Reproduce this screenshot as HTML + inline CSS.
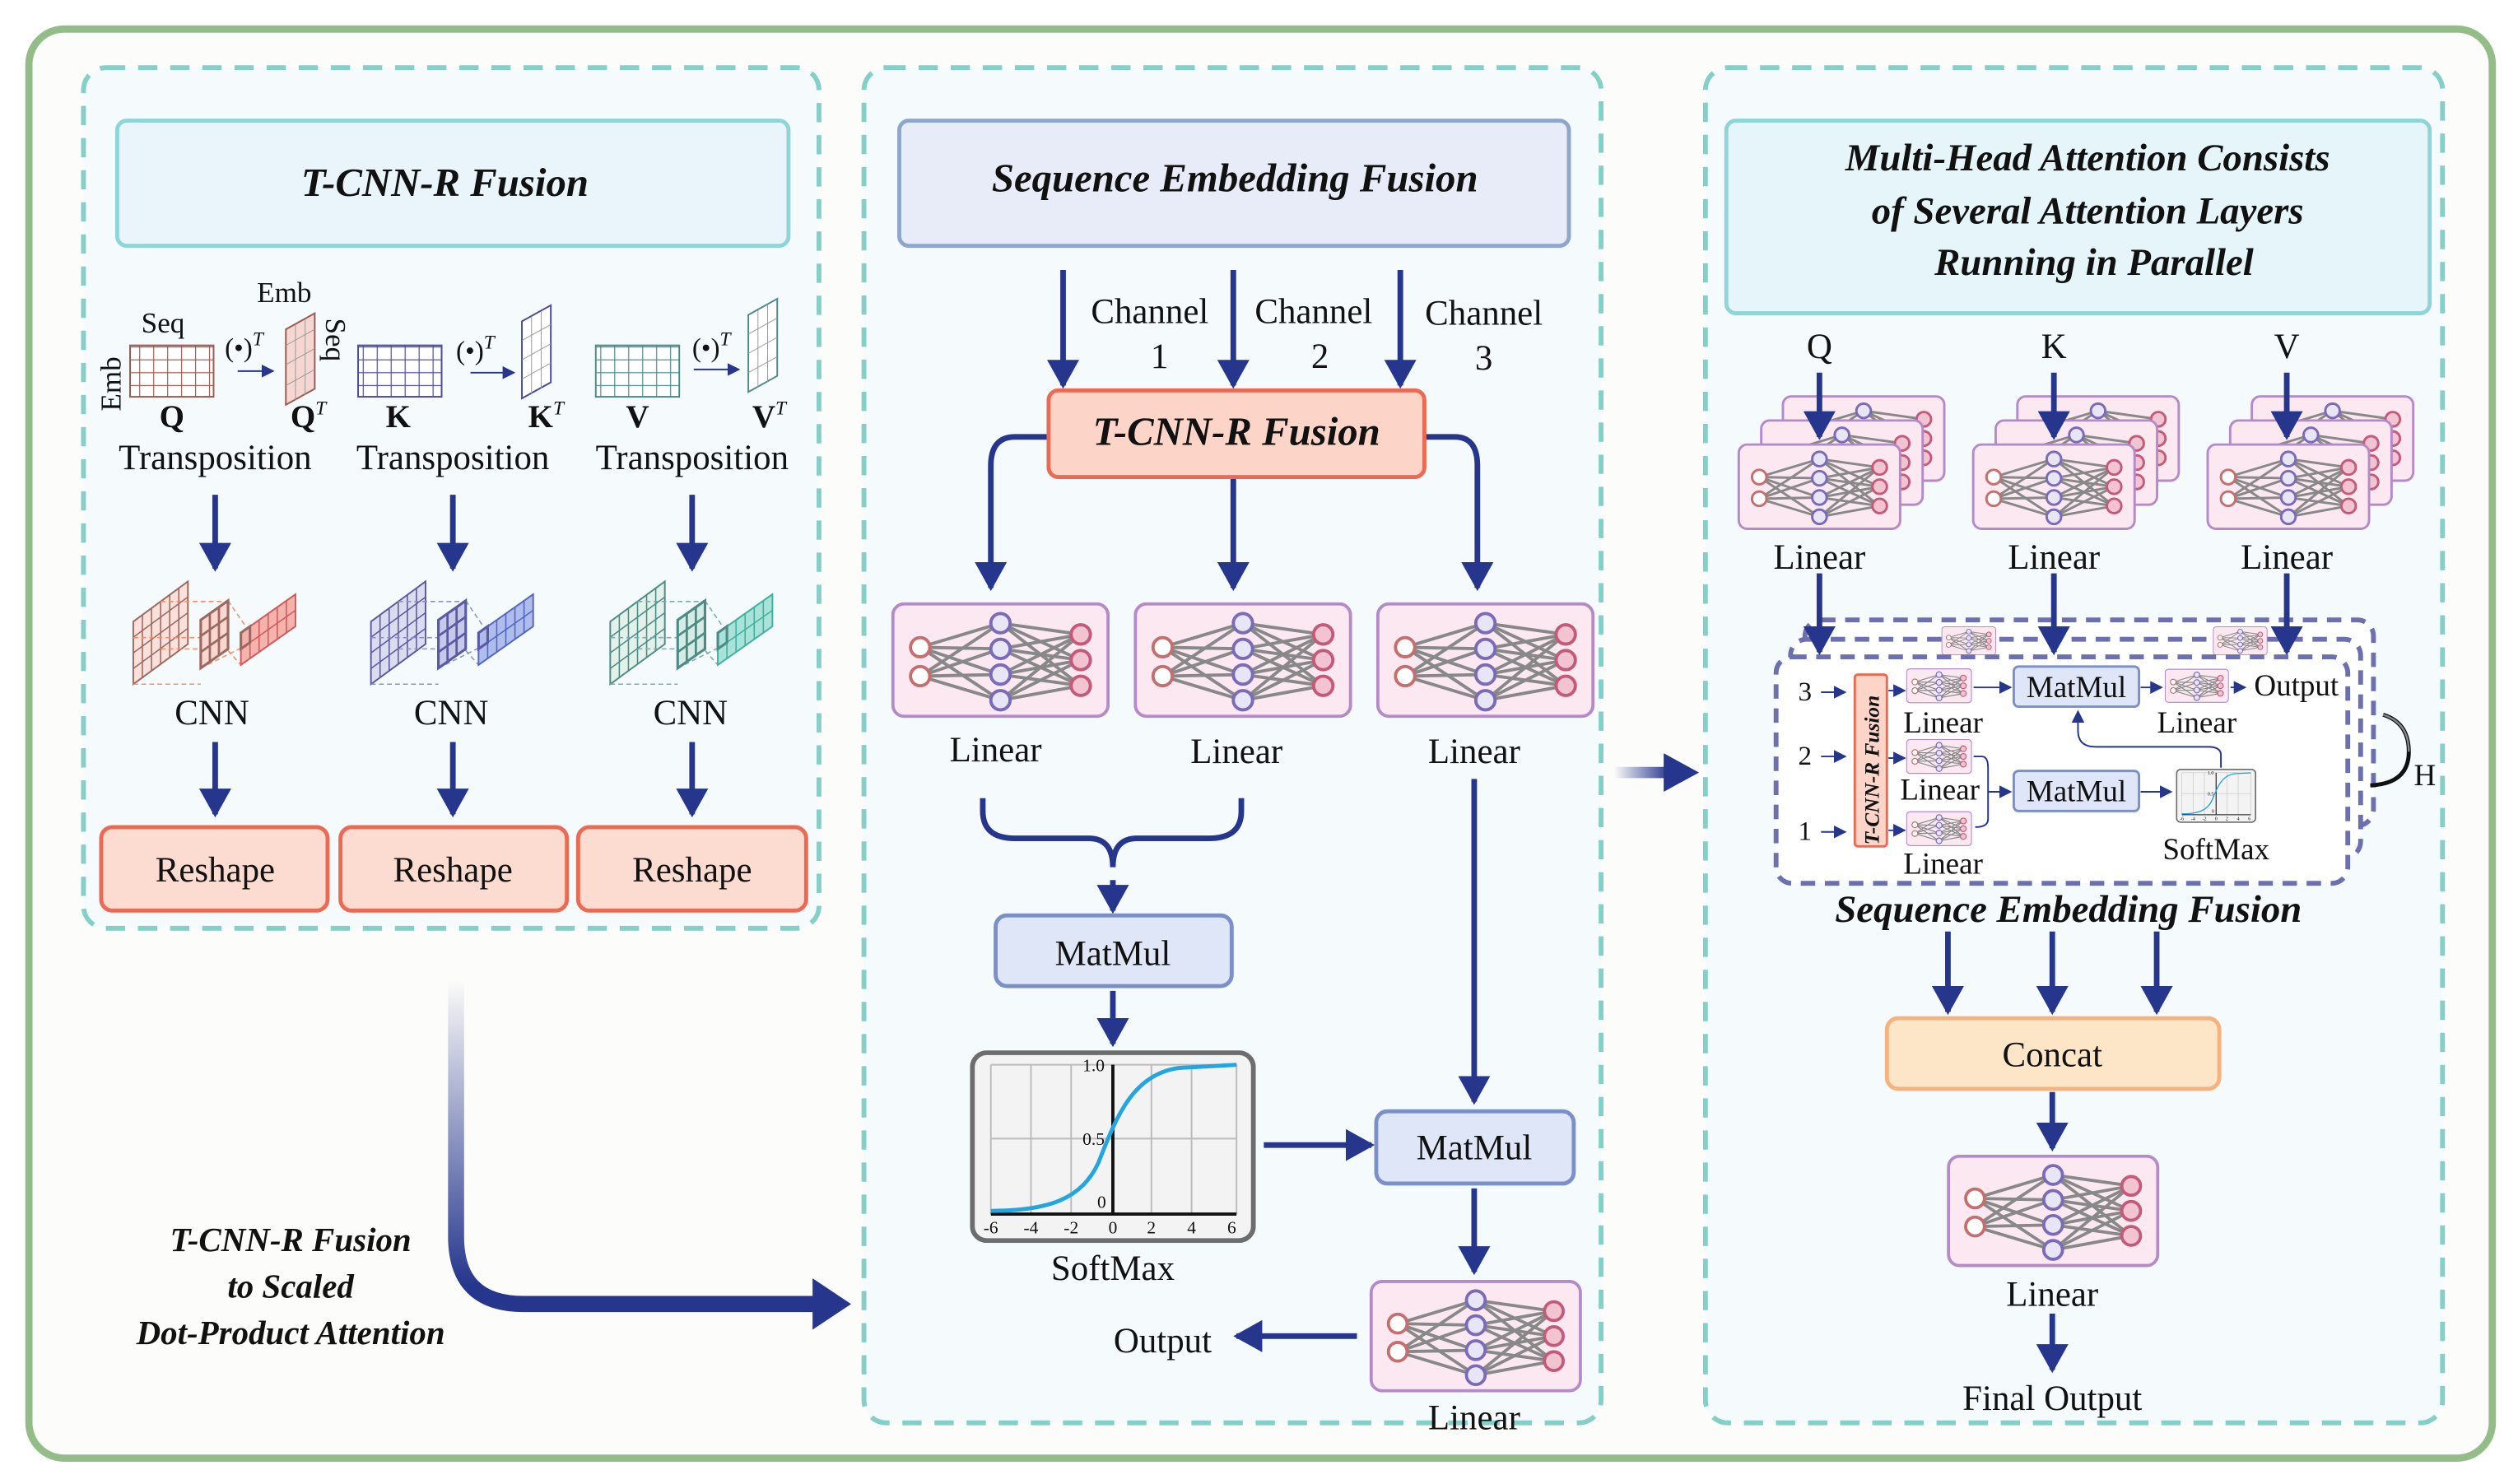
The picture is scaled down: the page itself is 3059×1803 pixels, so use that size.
<!DOCTYPE html>
<html><head><meta charset="utf-8"><style>
html,body{margin:0;padding:0;background:#fff}
svg{display:block}
svg text{font-family:"Liberation Serif","DejaVu Serif","Times New Roman",serif;fill:#111}
.b{font-weight:bold;font-style:italic}
</style></head><body>
<svg width="3059" height="1803" viewBox="0 0 1568 924" xmlns="http://www.w3.org/2000/svg" font-family="Liberation Serif, DejaVu Serif, serif">
<defs>
<marker id="ah" markerUnits="userSpaceOnUse" markerWidth="18" markerHeight="20" refX="16" refY="10" orient="auto"><path d="M0,0 L18,10 L0,20 Z" fill="#26368c"/></marker>
<marker id="as" markerUnits="userSpaceOnUse" markerWidth="8" markerHeight="8" refX="7" refY="4" orient="auto"><path d="M0,0 L8,4 L0,8 Z" fill="#26368c"/></marker>
<linearGradient id="g1" x1="0" y1="610" x2="0" y2="800" gradientUnits="userSpaceOnUse"><stop offset="0" stop-color="#26368c" stop-opacity="0"/><stop offset="1" stop-color="#26368c"/></linearGradient>
<linearGradient id="g2" x1="1005" y1="0" x2="1040" y2="0" gradientUnits="userSpaceOnUse"><stop offset="0" stop-color="#26368c" stop-opacity="0"/><stop offset="1" stop-color="#26368c"/></linearGradient>
<pattern id="pr" width="8.7" height="8" patternUnits="userSpaceOnUse"><rect width="8.7" height="8" fill="#fff" stroke="#9a5a50" stroke-width="0.6"/></pattern>
<pattern id="pb" width="8.7" height="8" patternUnits="userSpaceOnUse"><rect width="8.7" height="8" fill="#fff" stroke="#4a4a9a" stroke-width="0.6"/></pattern>
<pattern id="pg" width="8.7" height="8" patternUnits="userSpaceOnUse"><rect width="8.7" height="8" fill="#fff" stroke="#4a8a8a" stroke-width="0.6"/></pattern>
<symbol id="nn" viewBox="0 0 136 72">
<rect x="1" y="1" width="134" height="70" rx="7" fill="#fbe8f0" stroke="#b48ac9" stroke-width="2"/>
<g stroke="#888" stroke-width="2" fill="none">
<path d="M18,28 L68,13 M18,28 L68,29 M18,28 L68,45 M18,28 L68,61 M18,46 L68,13 M18,46 L68,29 M18,46 L68,45 M18,46 L68,61"/>
<path d="M68,13 L118,20 M68,13 L118,36 M68,13 L118,52 M68,29 L118,20 M68,29 L118,36 M68,29 L118,52 M68,45 L118,20 M68,45 L118,36 M68,45 L118,52 M68,61 L118,20 M68,61 L118,36 M68,61 L118,52"/>
</g>
<g stroke-width="2"><circle cx="18" cy="28" r="6" fill="#fff" stroke="#c46e6e"/><circle cx="18" cy="46" r="6" fill="#fff" stroke="#c46e6e"/>
<circle cx="68" cy="13" r="6" fill="#e8e6f6" stroke="#7a6ab8"/><circle cx="68" cy="29" r="6" fill="#e8e6f6" stroke="#7a6ab8"/><circle cx="68" cy="45" r="6" fill="#e8e6f6" stroke="#7a6ab8"/><circle cx="68" cy="61" r="6" fill="#e8e6f6" stroke="#7a6ab8"/>
<circle cx="118" cy="20" r="6" fill="#f2c4d2" stroke="#c45a7a"/><circle cx="118" cy="36" r="6" fill="#f2c4d2" stroke="#c45a7a"/><circle cx="118" cy="52" r="6" fill="#f2c4d2" stroke="#c45a7a"/></g>
</symbol>
<symbol id="sm" viewBox="0 0 178 120">
<rect x="1.5" y="1.5" width="175" height="117" rx="9" fill="#f3f3f3" stroke="#6d6d6d" stroke-width="3"/>
<g stroke="#bbb" stroke-width="1" fill="none"><path d="M13,9 H166 V102 M13,9 V102 M38,9 V102 M63,9 V102 M113,9 V102 M138,9 V102 M13,55 H166"/></g>
<path d="M13,102 H166 M89,9 V102" stroke="#111" stroke-width="2" fill="none"/>
<path d="M13,100 C50,100 70,92 80,70 C90,45 100,15 130,11 L166,9" stroke="#23a5e0" stroke-width="2.5" fill="none"/>
<g font-size="11" text-anchor="middle"><text x="13" y="114">-6</text><text x="38" y="114">-4</text><text x="63" y="114">-2</text><text x="89" y="114">0</text><text x="113" y="114">2</text><text x="138" y="114">4</text><text x="163" y="114">6</text>
<text x="77" y="13">1.0</text><text x="77" y="59">0.5</text><text x="82" y="98">0</text></g>
</symbol>
<symbol id="cnn" viewBox="0 0 104 70" overflow="visible">
<path d="M0,27 L34,2 V41 L0,66 Z" style="fill:var(--f1);stroke:var(--s1)" stroke-width="1"/>
<path d="M5.67,22.8 V61.8 M11.33,18.7 V57.7 M17,14.5 V53.5 M22.67,10.3 V49.3 M28.33,6.2 V45.2 M0,36.75 L34,11.75 M0,46.5 L34,21.5 M0,56.25 L34,31.25" style="stroke:var(--s1)" stroke-width="0.8" fill="none"/>
<path d="M17,14.5 H59 M0,37 H42 M17,44 H59 M0,66 H42 M59,14 L70,30 M59,45 L67,54 M42,56 L70,42" style="stroke:var(--d)" stroke-width="0.8" stroke-dasharray="3,2" fill="none"/>
<path d="M42,26 L59,14 V44 L42,56 Z" style="fill:var(--f2);stroke:var(--s1)" stroke-width="1.6"/>
<path d="M47.67,22 V52 M53.33,18 V48 M42,36 L59,24 M42,46 L59,34" style="stroke:var(--s1)" stroke-width="1.4" fill="none"/>
<path d="M67,34 L101,10 V30 L67,54 Z" style="fill:var(--f3);stroke:var(--s3)" stroke-width="1"/>
<path d="M72.67,30 V50 M78.33,26 V46 M84,22 V42 M89.67,18 V38 M95.33,14 V34 M67,44 L101,20" style="stroke:var(--s3)" stroke-width="0.8" fill="none"/>
<path d="M67,34 L72.67,30 V40 L67,44 Z" style="stroke:var(--s1)" stroke-width="1.6" fill="none"/>
</symbol>
</defs>
<rect x="0" y="0" width="1568" height="924" fill="#fff"/>
<rect x="18" y="18" width="1534" height="890" rx="22" fill="#fcfcfa" stroke="#93bd86" stroke-width="4.5"/>
<!-- panels -->
<rect x="52" y="42" width="458" height="536" rx="14" fill="#f5fafc" stroke="#84cfc8" stroke-width="3" stroke-dasharray="12,8"/>
<rect x="538" y="42" width="459" height="844" rx="14" fill="#f5fafc" stroke="#84cfc8" stroke-width="3" stroke-dasharray="12,8"/>
<rect x="1062" y="42" width="459" height="844" rx="14" fill="#f5fafc" stroke="#84cfc8" stroke-width="3" stroke-dasharray="12,8"/>
<!-- titles -->
<rect x="73" y="75" width="418" height="78" rx="6" fill="#e9f5fb" stroke="#8dd5d8" stroke-width="2.5"/>
<text x="277" y="122" font-size="25" class="b" text-anchor="middle">T-CNN-R Fusion</text>
<rect x="560" y="75" width="417" height="78" rx="6" fill="#e8ecf8" stroke="#8fa6cc" stroke-width="2.5"/>
<text x="769" y="119" font-size="25" class="b" text-anchor="middle">Sequence Embedding Fusion</text>
<rect x="1075" y="75" width="438" height="120" rx="6" fill="#e5f5fa" stroke="#8dd5d8" stroke-width="2.5"/>
<g font-size="24" class="b" text-anchor="middle"><text x="1300" y="106">Multi-Head Attention Consists</text><text x="1300" y="139">of  Several Attention Layers</text><text x="1304" y="171">Running in Parallel</text></g>

<!-- panel1 matrices -->
<g font-size="18">
<text x="88" y="207">Seq</text><text x="160" y="188">Emb</text>
<text transform="translate(75,256) rotate(-90)">Emb</text>
<text transform="translate(203,198) rotate(90)">Seq</text>
</g>
<rect x="81" y="215" width="52" height="32" fill="url(#pr)" stroke="#9a5a50"/>
<rect x="223" y="215" width="52" height="32" fill="url(#pb)" stroke="#4a4a9a"/>
<rect x="371" y="215" width="52" height="32" fill="url(#pg)" stroke="#4a8a8a"/>
<path d="M178,252 L178,205 L196,195 L196,242 Z" fill="#f6d6d0" stroke="#9a5a50"/>
<path d="M325,248 L325,200 L343,190 L343,238 Z" fill="#fff" stroke="#4a4a9a"/>
<path d="M466,244 L466,196 L484,186 L484,234 Z" fill="#fff" stroke="#4a8a8a"/>
<g stroke="#999" stroke-width="0.5"><path d="M178,215 L196,205 M178,227 L196,217 M178,240 L196,230 M184,249 V202 M190,246 V199"/><path d="M325,212 L343,202 M325,224 L343,214 M325,236 L343,226 M331,245 V197 M337,242 V194"/><path d="M466,208 L484,198 M466,220 L484,210 M466,232 L484,222 M472,241 V193 M478,238 V190"/></g>
<g stroke="#26368c" stroke-width="1"><path d="M148,231 H170" marker-end="url(#as)"/><path d="M293,232 H320" marker-end="url(#as)"/><path d="M432,230 H460" marker-end="url(#as)"/></g>
<g font-size="17"><text x="140" y="222">(•)<tspan font-size="12" font-style="italic" dy="-7">T</tspan></text><text x="284" y="224">(•)<tspan font-size="12" font-style="italic" dy="-7">T</tspan></text><text x="431" y="222">(•)<tspan font-size="12" font-style="italic" dy="-7">T</tspan></text></g>
<g font-size="20" font-weight="bold" text-anchor="middle"><text x="107" y="266">Q</text><text x="248" y="266">K</text><text x="397" y="266">V</text>
<text x="192" y="266">Q<tspan font-size="12" font-style="italic" font-weight="normal" dy="-8">T</tspan></text><text x="340" y="266">K<tspan font-size="12" font-style="italic" font-weight="normal" dy="-8">T</tspan></text><text x="479" y="266">V<tspan font-size="12" font-style="italic" font-weight="normal" dy="-8">T</tspan></text></g>
<g font-size="22" text-anchor="middle"><text x="134" y="292">Transposition</text><text x="282" y="292">Transposition</text><text x="431" y="292">Transposition</text></g>
<g stroke="#26368c" stroke-width="3.5" fill="none" marker-end="url(#ah)"><path d="M134,308 V354"/><path d="M282,308 V354"/><path d="M431,308 V354"/><path d="M134,462 V507"/><path d="M282,462 V507"/><path d="M431,462 V507"/></g>
<!-- CNN icons -->
<use href="#cnn" x="83" y="360" width="104" height="70" style="--f1:#fbe0dc;--s1:#9a6a60;--f2:#fcd6d0;--f3:#f5b3ae;--s3:#d05a5a;--d:#f09070"/>
<use href="#cnn" x="231" y="360" width="104" height="70" style="--f1:#dcdcf0;--s1:#5a5aa0;--f2:#c8c8ea;--f3:#b0bcec;--s3:#5068c0;--d:#9090c0"/>
<use href="#cnn" x="380" y="360" width="104" height="70" style="--f1:#e2f2ea;--s1:#4e8a86;--f2:#d4ece4;--f3:#a8e2d8;--s3:#40b0a0;--d:#80aaaa"/>
<g font-size="22" text-anchor="middle"><text x="132" y="451">CNN</text><text x="281" y="451">CNN</text><text x="430" y="451">CNN</text></g>
<g fill="#fcdbd0" stroke="#ec6a52" stroke-width="2.5"><rect x="63" y="515" width="141" height="52" rx="7"/><rect x="212" y="515" width="141" height="52" rx="7"/><rect x="360" y="515" width="142" height="52" rx="7"/></g>
<g font-size="22" text-anchor="middle"><text x="134" y="549">Reshape</text><text x="282" y="549">Reshape</text><text x="431" y="549">Reshape</text></g>

<!-- big arrow -->
<path d="M284,610 V770 Q284,812 326,812 H510" stroke="url(#g1)" stroke-width="10" fill="none"/>
<path d="M506,796 L530,812 L506,828 Z" fill="#26368c"/>
<g font-size="21" class="b" text-anchor="middle"><text x="181" y="779">T-CNN-R Fusion</text><text x="181" y="808">to Scaled</text><text x="181" y="837">Dot-Product Attention</text></g>

<!-- panel2 -->
<g stroke="#26368c" stroke-width="3.5" fill="none" marker-end="url(#ah)">
<path d="M662,168 V240"/><path d="M768,168 V240"/><path d="M872,168 V240"/>
<path d="M653,272 H632 Q617,272 617,290 V366"/><path d="M768,298 V366"/><path d="M887,272 H906 Q920,272 920,290 V366"/>
<path d="M693,548 V567"/><path d="M693,617 V650"/><path d="M918,485 V686"/><path d="M787,713 H854"/><path d="M918,740 V792"/><path d="M845,832 H770"/>
</g>
<path d="M612,497 V505 Q612,522 632,522 H678 Q693,522 693,540 M773,497 V505 Q773,522 753,522 H708 Q693,522 693,540" stroke="#26368c" stroke-width="3.5" fill="none"/>
<g font-size="22" text-anchor="middle"><text x="716" y="201">Channel</text><text x="722" y="229">1</text><text x="818" y="201">Channel</text><text x="822" y="229">2</text><text x="924" y="202">Channel</text><text x="924" y="230">3</text></g>
<rect x="653" y="243" width="234" height="54" rx="6" fill="#fcd5c8" stroke="#ec6a52" stroke-width="2.5"/>
<text x="770" y="277" font-size="25" class="b" text-anchor="middle">T-CNN-R Fusion</text>
<use href="#nn" x="555" y="375" width="136" height="72"/>
<use href="#nn" x="706" y="375" width="136" height="72"/>
<use href="#nn" x="857" y="375" width="136" height="72"/>
<g font-size="22" text-anchor="middle"><text x="620" y="474">Linear</text><text x="770" y="475">Linear</text><text x="918" y="475">Linear</text></g>
<rect x="620" y="570" width="147" height="44" rx="7" fill="#dfe6f7" stroke="#7b8fc8" stroke-width="2.5"/>
<text x="693" y="601" font-size="22" text-anchor="middle">MatMul</text>
<use href="#sm" x="604" y="654" width="178" height="120"/>
<text x="693" y="797" font-size="22" text-anchor="middle">SoftMax</text>
<rect x="857" y="692" width="123" height="45" rx="7" fill="#dfe6f7" stroke="#7b8fc8" stroke-width="2.5"/>
<text x="918" y="722" font-size="22" text-anchor="middle">MatMul</text>
<use href="#nn" x="851" y="797" width="136" height="70"/>
<text x="918" y="890" font-size="22" text-anchor="middle">Linear</text>
<text x="724" y="842" font-size="22" text-anchor="middle">Output</text>

<!-- mid arrow -->
<path d="M1005,481 H1040" stroke="url(#g2)" stroke-width="7"/>
<path d="M1036,469 L1058,481 L1036,493 Z" fill="#26368c"/>

<!-- panel3 -->
<g font-size="22" text-anchor="middle"><text x="1133" y="223">Q</text><text x="1279" y="223">K</text><text x="1424" y="223">V</text></g>
<g>
<use href="#nn" x="1105" y="246" width="111" height="54"/><use href="#nn" x="1092" y="261" width="110" height="54"/><use href="#nn" x="1078" y="276" width="110" height="54"/>
<use href="#nn" x="1251" y="246" width="111" height="54"/><use href="#nn" x="1238" y="261" width="110" height="54"/><use href="#nn" x="1224" y="276" width="110" height="54"/>
<use href="#nn" x="1397" y="246" width="111" height="54"/><use href="#nn" x="1384" y="261" width="110" height="54"/><use href="#nn" x="1370" y="276" width="110" height="54"/>
</g>
<g stroke="#26368c" stroke-width="3.5" fill="none" marker-end="url(#ah)"><path d="M1133,232 V272"/><path d="M1279,232 V272"/><path d="M1424,232 V272"/></g>
<g font-size="22" text-anchor="middle"><text x="1133" y="354">Linear</text><text x="1279" y="354">Linear</text><text x="1424" y="354">Linear</text></g>
<rect x="1124" y="386" width="354" height="128" rx="10" fill="#fff" stroke="#6c6fb0" stroke-width="3" stroke-dasharray="9,6"/>
<rect x="1115" y="398" width="355" height="136" rx="10" fill="#fff" stroke="#6c6fb0" stroke-width="3" stroke-dasharray="9,6"/>
<use href="#nn" x="1206" y="390" width="40" height="18"/><use href="#nn" x="1375" y="390" width="40" height="18"/>
<rect x="1106" y="409" width="356" height="141" rx="10" fill="#fff" stroke="#6c6fb0" stroke-width="3" stroke-dasharray="9,6"/>
<g stroke="#26368c" stroke-width="3.5" fill="none" marker-end="url(#ah)"><path d="M1133,357 V406"/><path d="M1279,357 V406"/><path d="M1424,357 V406"/><path d="M1213,580 V630"/><path d="M1278,580 V630"/><path d="M1343,580 V630"/><path d="M1278,680 V715"/><path d="M1278,818 V853"/></g>
<g font-size="17" text-anchor="middle"><text x="1124" y="436">3</text><text x="1124" y="476">2</text><text x="1124" y="523">1</text></g>
<g stroke="#26368c" stroke-width="1" fill="none" marker-end="url(#as)"><path d="M1134,431 H1149"/><path d="M1134,471 H1149"/><path d="M1134,518 H1149"/><path d="M1176,430 H1186"/><path d="M1176,472 H1186"/><path d="M1176,517 H1186"/><path d="M1229,428 H1252"/><path d="M1333,428 H1346"/><path d="M1389,428 H1398"/><path d="M1333,493 H1352"/><path d="M1229,471 H1234 Q1238,471 1238,478 V510 Q1238,515 1230,515 M1238,493 H1252"/><path d="M1383,478 V470 Q1383,465 1375,465 H1305 Q1294,465 1294,455 V443"/></g>
<rect x="1155" y="420" width="20" height="107" rx="2" fill="#fcd5c8" stroke="#ec6a52" stroke-width="1.5"/>
<text transform="translate(1170,526) rotate(-90)" font-size="13" class="b">T-CNN-R Fusion</text>
<use href="#nn" x="1187" y="416" width="41" height="22"/><use href="#nn" x="1187" y="460" width="41" height="22"/><use href="#nn" x="1187" y="505" width="41" height="22"/><use href="#nn" x="1348" y="416" width="40" height="22"/>
<rect x="1254" y="415" width="78" height="25" rx="3" fill="#dfe6f7" stroke="#7b8fc8" stroke-width="1.5"/>
<rect x="1254" y="480" width="78" height="25" rx="3" fill="#dfe6f7" stroke="#7b8fc8" stroke-width="1.5"/>
<use href="#sm" x="1355" y="478" width="50" height="35"/>
<g font-size="19" text-anchor="middle"><text x="1293" y="434">MatMul</text><text x="1293" y="499">MatMul</text><text x="1210" y="456">Linear</text><text x="1208" y="498">Linear</text><text x="1210" y="544">Linear</text><text x="1368" y="456">Linear</text><text x="1380" y="535">SoftMax</text><text x="1430" y="433">Output</text><text x="1510" y="489">H</text></g>
<path d="M1484,445 Q1500,450 1500,468 Q1500,488 1476,489" stroke="#111" stroke-width="2.5" fill="none"/>
<path d="M1484,445 Q1500,450 1500,468" stroke="#888" stroke-width="1.2" fill="none"/>
<text x="1288" y="574" font-size="24" class="b" text-anchor="middle">Sequence Embedding Fusion</text>
<rect x="1175" y="634" width="207" height="44" rx="7" fill="#fde5c8" stroke="#f5b27f" stroke-width="2.5"/>
<text x="1278" y="664" font-size="22" text-anchor="middle">Concat</text>
<use href="#nn" x="1211" y="719" width="135" height="70"/>
<text x="1278" y="813" font-size="22" text-anchor="middle">Linear</text>
<text x="1278" y="878" font-size="22" text-anchor="middle">Final Output</text>
</svg>
</body></html>
